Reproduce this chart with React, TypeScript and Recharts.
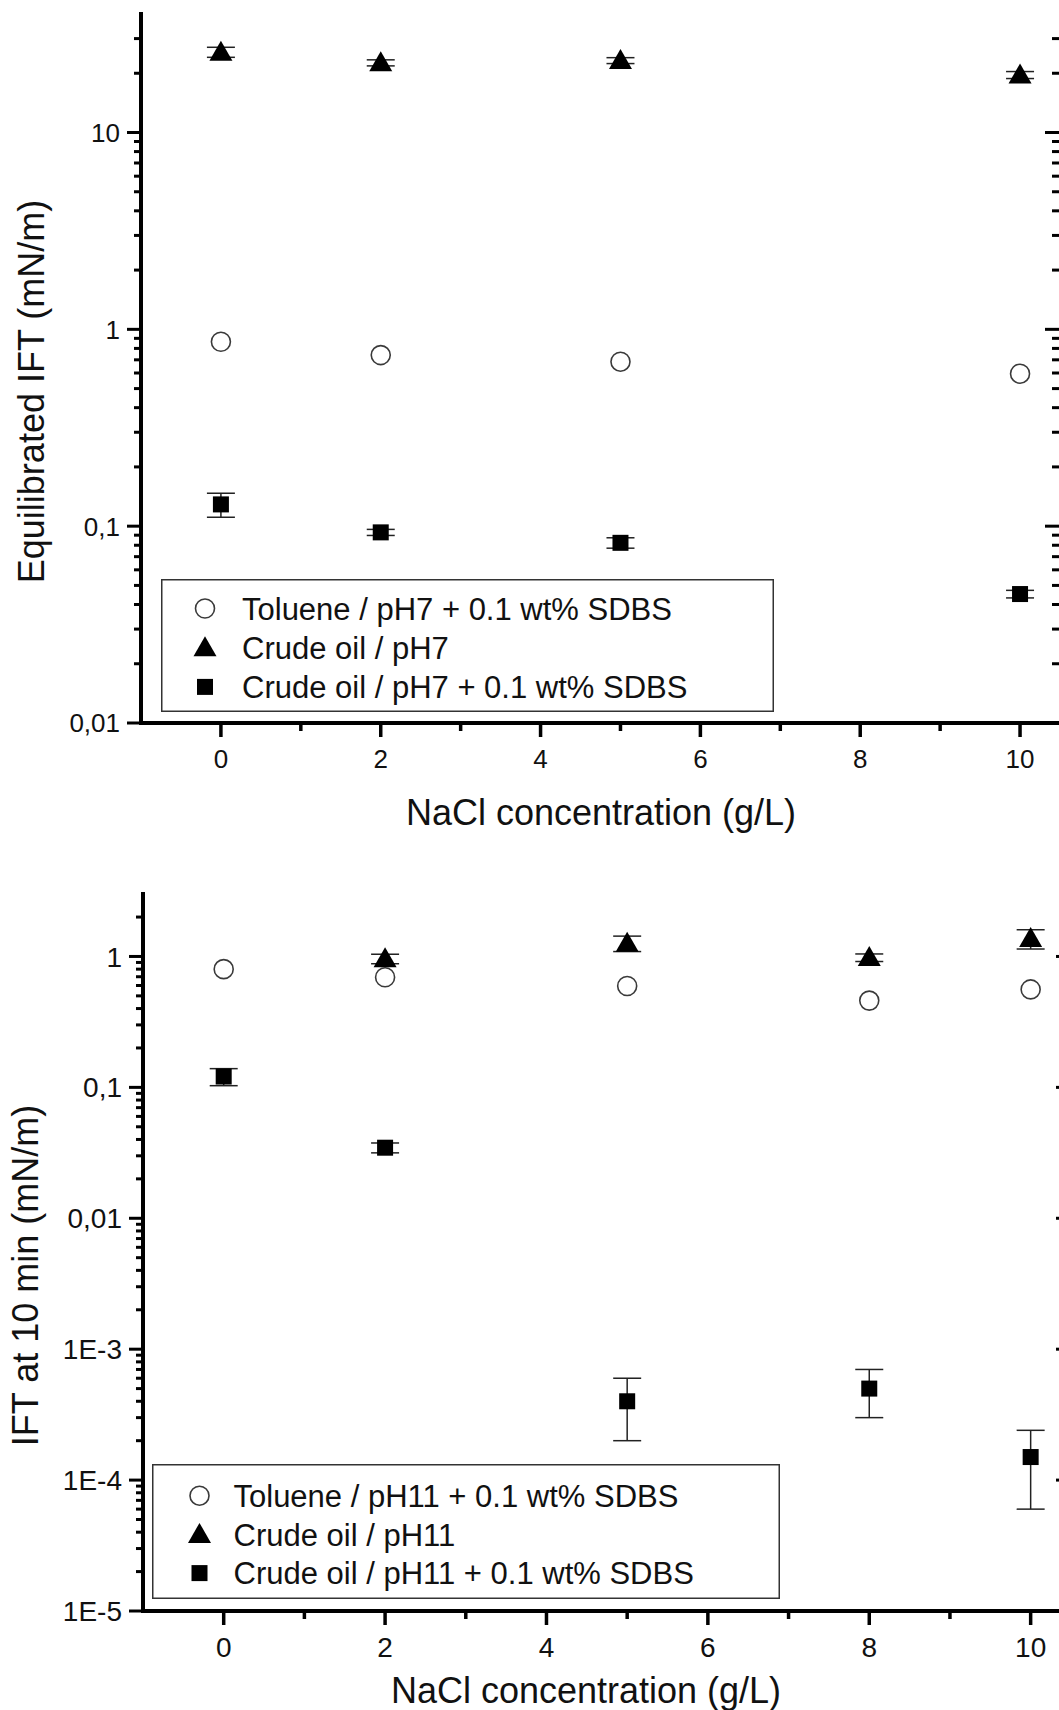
import React from 'react';
import { ScatterChart, Scatter, XAxis, YAxis, ErrorBar, Legend, Label } from 'recharts';

const FONT = '"Liberation Sans", Arial, Helvetica, sans-serif';

// x axis (NaCl concentration, g/L)
const majorX = [0, 2, 4, 6, 8, 10];
const minorX = [1, 3, 5, 7, 9];
const minorSteps = [2, 3, 4, 5, 6, 7, 8, 9];

// top panel: equilibrated IFT, pH7
const concPH7 = [0, 2, 5, 10];
const toluenePH7 = [0.865, 0.74, 0.685, 0.595];
const crudePH7 = [25.6, 22.6, 23.2, 19.6];
const crudePH7Err = [1.5, 0.8, 0.8, 0.8];
const sdbsPH7 = [0.129, 0.093, 0.0823, 0.0452];
const sdbsPH7Err = [0.018, 0.0033, 0.005, 0.002];
const decadesTop = [0.01, 0.1, 1, 10];
const decadeLabelsTop = ['0,01', '0,1', '1', '10'];

// bottom panel: IFT at 10 min, pH11
const concPH11 = [0, 2, 5, 8, 10];
const toluenePH11 = [0.8, 0.694, 0.595, 0.46, 0.56];
const concCrudePH11 = [2, 5, 8, 10];
const crudePH11 = [0.96, 1.26, 0.98, 1.37];
const crudePH11Err = [0.08, 0.17, 0.065, 0.23];
const sdbsPH11 = [0.121, 0.0346, 0.0004, 0.0005, 0.00015];
const sdbsPH11Err = [0.018, 0.003, 0.0002, 0.0002, 0.00009];
const decadesBottom = [1e-5, 1e-4, 1e-3, 0.01, 0.1, 1];
const decadeLabelsBottom = ['1E-5', '1E-4', '1E-3', '0,01', '0,1', '1'];

const toPoints = (xs: number[], ys: number[], errs?: number[]) =>
  xs.map((x, i) => ({ x, y: ys[i], err: errs ? errs[i] : 0 }));

const logTicks = (decades: number[], max: number) => {
  const out: number[] = [];
  decades.forEach((d) => {
    out.push(d);
    minorSteps.forEach((m) => {
      if (d * m < max * 0.999) out.push(d * m);
    });
  });
  return out;
};

// marker shapes, shared by the plot and the legend
const Marker = ({ kind, cx, cy }: { kind: string; cx: number; cy: number }) => {
  if (kind === 'circle') {
    return <circle cx={cx} cy={cy} r={9.5} fill="#fff" stroke="#3a3a3a" strokeWidth={1.6} />;
  }
  if (kind === 'triangle') {
    return <polygon points={`${cx},${cy - 11.5} ${cx - 11.5},${cy + 8.5} ${cx + 11.5},${cy + 8.5}`} fill="#000" />;
  }
  return <rect x={cx - 8} y={cy - 8} width={16} height={16} fill="#000" />;
};

const LeftTick = ({ x, y, payload, decades, labels, fontSize }: any) => {
  const idx = decades.indexOf(payload.value);
  const major = idx >= 0;
  return (
    <g>
      <line x1={x} x2={x - (major ? 14 : 7)} y1={y} y2={y} stroke="#000" strokeWidth={3} />
      {major && (
        <text x={x - 21} y={y} dy="0.36em" textAnchor="end" fontSize={fontSize} fontFamily={FONT} fill="#111">
          {labels[idx]}
        </text>
      )}
    </g>
  );
};

const RightTick = ({ x, y, payload, decades }: any) => {
  const major = decades.includes(payload.value);
  return <line x1={x} x2={x - (major ? 15 : 8)} y1={y} y2={y} stroke="#000" strokeWidth={3} />;
};

const BottomTick = ({ x, y, payload, fontSize }: any) => {
  const major = majorX.includes(payload.value);
  return (
    <g>
      <line x1={x} x2={x} y1={y} y2={y + (major ? 14 : 8)} stroke="#000" strokeWidth={3.5} />
      {major && (
        <text x={x} y={y + 36} dy="0.36em" textAnchor="middle" fontSize={fontSize} fontFamily={FONT} fill="#111">
          {payload.value}
        </text>
      )}
    </g>
  );
};

const TopTick = ({ x, y, payload }: any) => {
  const major = majorX.includes(payload.value);
  return <line x1={x} x2={x} y1={y} y2={y + (major ? 14 : 8)} stroke="#000" strokeWidth={3.5} />;
};

const LegendBox = ({ payload, box, series }: any) => {
  // keep the plotting order, not the alphabetical one
  const entries = series
    .map((s: any) => (payload || []).find((e: any) => e.value === s.name))
    .filter(Boolean);
  const kinds: Record<string, string> = {};
  series.forEach((s: any) => (kinds[s.name] = s.kind));
  return (
    <svg width={box.w} height={box.h} style={{ display: 'block' }}>
      <rect x={0.75} y={0.75} width={box.w - 1.5} height={box.h - 1.5} fill="#fff" stroke="#333" strokeWidth={1.5} />
      {entries.map((e: any, i: number) => {
        const cy = box.row0 + i * box.gap;
        return (
          <g key={e.value}>
            <Marker kind={kinds[e.value]} cx={box.symX} cy={cy} />
            <text x={box.textX} y={cy} dy="0.36em" fontSize={31} fontFamily={FONT} fill="#111">
              {e.value}
            </text>
          </g>
        );
      })}
    </svg>
  );
};

const Panel = ({ cfg }: any) => {
  const yTicks = logTicks(cfg.decades, cfg.yMax);
  const xTicks = [...majorX, ...minorX];
  const axisLine = { stroke: '#000', strokeWidth: 4, strokeLinecap: 'square' as const };
  return (
    <div style={{ position: 'absolute', left: 0, top: cfg.top }}>
      <ScatterChart width={cfg.width} height={cfg.height} margin={cfg.margin}>
        <XAxis
          xAxisId="b"
          type="number"
          dataKey="x"
          domain={[-1, 10.5]}
          allowDataOverflow
          ticks={xTicks}
          interval={0}
          tickSize={0}
          tickMargin={0}
          tickLine={false}
          axisLine={axisLine}
          height={60}
          tick={<BottomTick fontSize={cfg.tickFont} />}
        >
          <Label
            content={(p: any) => (
              <text
                x={cfg.xTitleX}
                y={p.viewBox.y + cfg.xTitleDy}
                dy="0.36em"
                textAnchor="middle"
                fontSize={36}
                fontFamily={FONT}
                fill="#111"
              >
                NaCl concentration (g/L)
              </text>
            )}
          />
        </XAxis>
        <XAxis
          xAxisId="t"
          orientation="top"
          type="number"
          domain={[-1, 10.5]}
          allowDataOverflow
          ticks={xTicks}
          interval={0}
          tickSize={0}
          tickMargin={0}
          tickLine={false}
          axisLine={axisLine}
          height={0}
          tick={<TopTick />}
        />
        <YAxis
          yAxisId="l"
          type="number"
          dataKey="y"
          scale="log"
          domain={[cfg.decades[0], cfg.yMax]}
          allowDataOverflow
          ticks={yTicks}
          interval={0}
          tickSize={0}
          tickMargin={0}
          tickLine={false}
          axisLine={axisLine}
          width={cfg.yAxisWidth}
          tick={<LeftTick decades={cfg.decades} labels={cfg.labels} fontSize={cfg.tickFont} />}
        >
          <Label
            content={(p: any) => {
              const cx = cfg.yTitleX;
              const cy = p.viewBox.y + p.viewBox.height / 2 + 23;
              return (
                <text
                  x={cx}
                  y={cy}
                  dy="0.36em"
                  transform={`rotate(-90 ${cx} ${cy})`}
                  textAnchor="middle"
                  fontSize={36}
                  fontFamily={FONT}
                  fill="#111"
                >
                  {cfg.yTitle}
                </text>
              );
            }}
          />
        </YAxis>
        <YAxis
          yAxisId="r"
          orientation="right"
          type="number"
          scale="log"
          domain={[cfg.decades[0], cfg.yMax]}
          allowDataOverflow
          ticks={yTicks}
          interval={0}
          tickSize={0}
          tickMargin={0}
          tickLine={false}
          axisLine={false}
          width={30}
          tick={<RightTick decades={cfg.decades} />}
        />
        {cfg.series.map((s: any) => (
          <Scatter
            key={s.name}
            name={s.name}
            data={s.points}
            xAxisId="b"
            yAxisId="l"
            isAnimationActive={false}
            shape={(p: any) => <Marker kind={s.kind} cx={p.cx} cy={p.cy} />}
          >
            {s.hasErr && (
              <ErrorBar dataKey="err" direction="y" width={14} stroke="#222" strokeWidth={1.5} />
            )}
          </Scatter>
        ))}
        <Legend
          layout="vertical"
          align="center"
          verticalAlign="middle"
          wrapperStyle={{ left: cfg.legend.left, top: cfg.legend.top, width: cfg.legend.w, height: cfg.legend.h }}
          content={(p: any) => <LegendBox payload={p.payload} box={cfg.legend} series={cfg.series} />}
        />
      </ScatterChart>
    </div>
  );
};

const topPanel = {
  top: 0,
  width: 1090,
  height: 850,
  margin: { top: 14, right: 0, bottom: 67, left: 0 },
  yAxisWidth: 141,
  tickFont: 26,
  decades: decadesTop,
  labels: decadeLabelsTop,
  yMax: 40,
  yTitle: 'Equilibrated IFT (mN/m)',
  yTitleX: 31,
  xTitleX: 601,
  xTitleDy: 89,
  legend: { left: 161, top: 579, w: 613, h: 133, row0: 29.5, gap: 39.2, symX: 44, textX: 81 },
  series: [
    { name: 'Toluene / pH7 + 0.1 wt% SDBS', kind: 'circle', points: toPoints(concPH7, toluenePH7), hasErr: false },
    { name: 'Crude oil / pH7', kind: 'triangle', points: toPoints(concPH7, crudePH7, crudePH7Err), hasErr: true },
    { name: 'Crude oil / pH7 + 0.1 wt% SDBS', kind: 'square', points: toPoints(concPH7, sdbsPH7, sdbsPH7Err), hasErr: true },
  ],
};

const bottomPanel = {
  top: 860,
  width: 1101,
  height: 850,
  margin: { top: 34, right: 0, bottom: 39, left: 0 },
  yAxisWidth: 143,
  tickFont: 28,
  decades: decadesBottom,
  labels: decadeLabelsBottom,
  yMax: 3,
  yTitle: 'IFT at 10 min (mN/m)',
  yTitleX: 25,
  xTitleX: 586,
  xTitleDy: 79,
  legend: { left: 152, top: 604, w: 628, h: 135, row0: 31.7, gap: 38.7, symX: 47.5, textX: 81.5 },
  series: [
    { name: 'Toluene / pH11 + 0.1 wt% SDBS', kind: 'circle', points: toPoints(concPH11, toluenePH11), hasErr: false },
    { name: 'Crude oil / pH11', kind: 'triangle', points: toPoints(concCrudePH11, crudePH11, crudePH11Err), hasErr: true },
    { name: 'Crude oil / pH11 + 0.1 wt% SDBS', kind: 'square', points: toPoints(concPH11, sdbsPH11, sdbsPH11Err), hasErr: true },
  ],
};

export default function App() {
  return (
    <div style={{ position: 'absolute', left: 0, top: 0, width: 1059, height: 1710, overflow: 'hidden', background: '#fff' }}>
      <Panel cfg={topPanel} />
      <Panel cfg={bottomPanel} />
    </div>
  );
}
